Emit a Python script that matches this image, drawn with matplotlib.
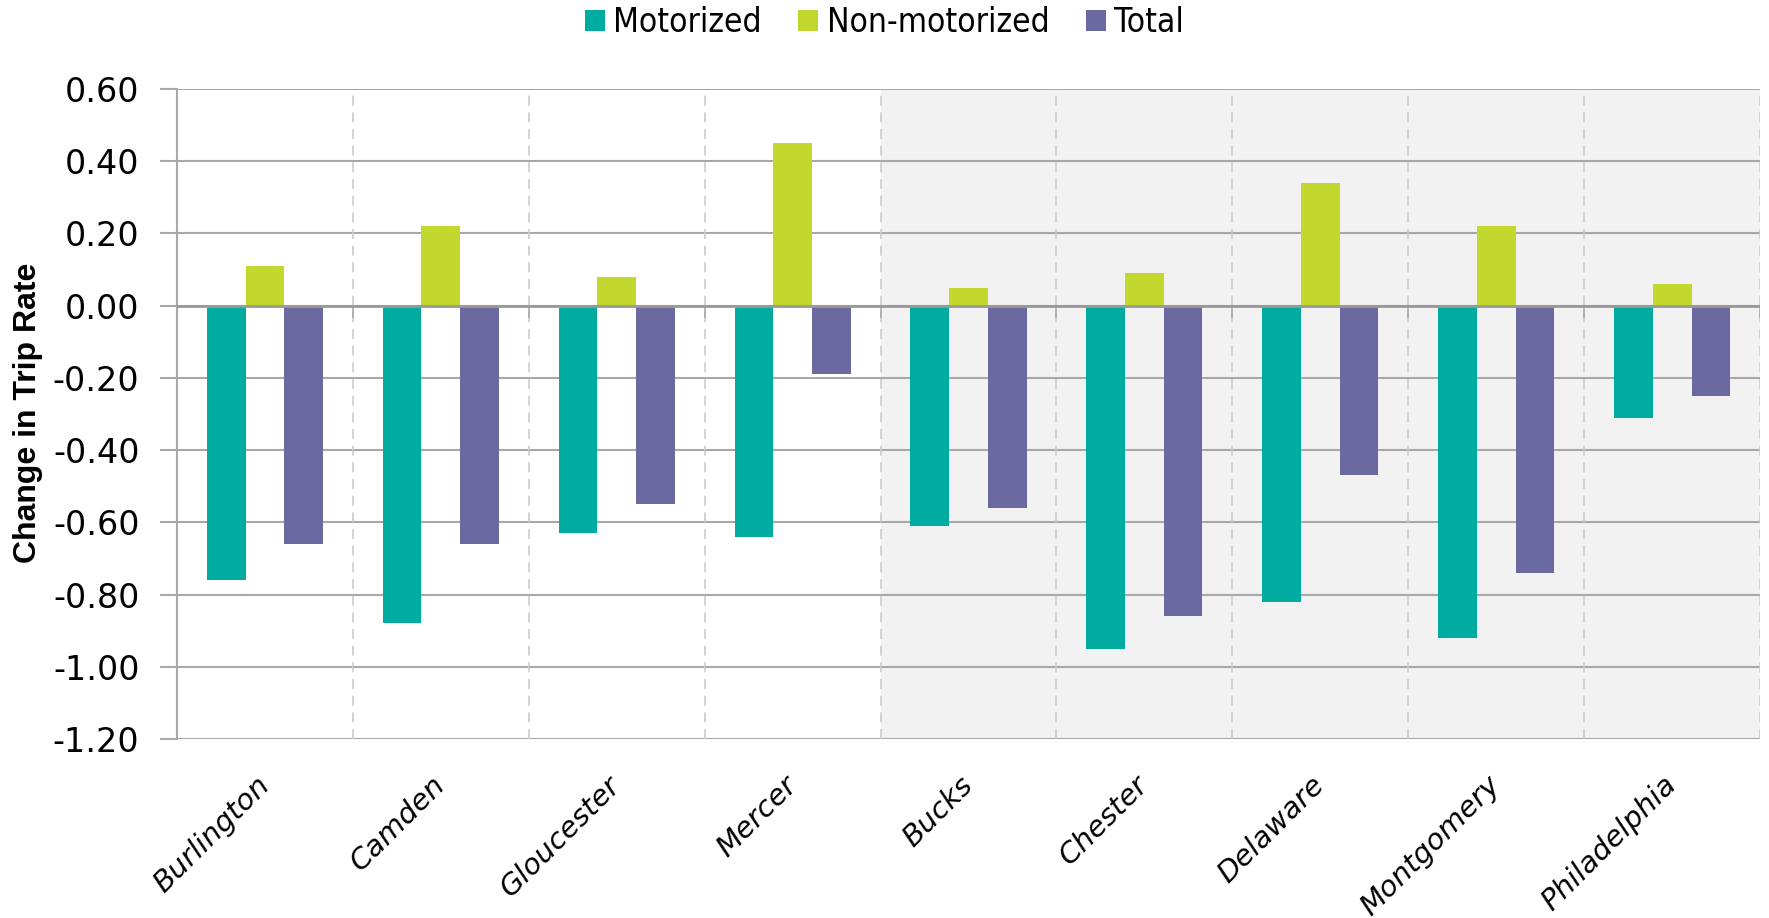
import numpy as np
import matplotlib.pyplot as plt
import matplotlib.transforms as mtransforms

counties = ['Burlington', 'Camden', 'Gloucester', 'Mercer', 'Bucks',
            'Chester', 'Delaware', 'Montgomery', 'Philadelphia']
motorized = [-0.76, -0.88, -0.63, -0.64, -0.61, -0.95, -0.82, -0.92, -0.31]
non_motorized = [0.11, 0.22, 0.08, 0.45, 0.05, 0.09, 0.34, 0.22, 0.06]
total = [-0.66, -0.66, -0.55, -0.19, -0.56, -0.86, -0.47, -0.74, -0.25]
yticks = [0.60, 0.40, 0.20, 0.00, -0.20, -0.40, -0.60, -0.80, -1.00, -1.20]

teal = '#00aba1'
lime = '#c2d82e'
purple = '#6a6aa0'
grid_gray = '#a8a8a8'

fig = plt.figure(figsize=(17.69, 9.18), dpi=100)
ax = fig.add_axes([0.1, 0.195, 0.895, 0.708])

x = np.arange(len(counties))
w = 0.22
ax.bar(x - w, motorized, w, color=teal, label='Motorized', zorder=3)
ax.bar(x, non_motorized, w, color=lime, label='Non-motorized', zorder=3)
ax.bar(x + w, total, w, color=purple, label='Total', zorder=3)

# shaded PA counties
ax.axvspan(3.5, len(counties) - 0.5, color='#f2f2f2', zorder=0, lw=0)

# dashed separators between counties
bounds = np.arange(len(counties)) + 0.5
for b in bounds:
    ax.axvline(b, color='#cccccc', ls=(0, (6, 4)), lw=1.2, zorder=1)
    ax.plot([b, b], [0, -0.03], color=grid_gray, lw=1.2, zorder=2)

ax.set_xlim(-0.5, len(counties) - 0.5)
ax.set_ylim(-1.2, 0.6)
ax.set_yticks(yticks)
ax.set_yticklabels([f'{v:.2f}' for v in yticks], fontsize=24)
ax.yaxis.grid(True, color=grid_gray, lw=1.5, zorder=1)
ax.axhline(0, color='#999999', lw=2, zorder=4)
ax.tick_params(axis='y', length=12, width=1.5, color=grid_gray, pad=15)

ax.set_xticks(x)
ax.set_xticklabels(counties, rotation=45, ha='right', va='top',
                   fontsize=21, style='oblique')
ax.tick_params(axis='x', length=0, pad=23)
shift = mtransforms.ScaledTranslation(10 / 100, 0, fig.dpi_scale_trans)
for lbl in ax.get_xticklabels():
    lbl.set_transform(lbl.get_transform() + shift)

for s in ['top', 'right', 'bottom']:
    ax.spines[s].set_visible(False)
ax.spines['left'].set_color(grid_gray)
ax.spines['left'].set_linewidth(1.5)
ax.set_axisbelow(True)

fig.text(0.016, 0.55, 'Change in Trip Rate', rotation=90, ha='center',
         va='center', fontsize=23, fontweight='heavy',
         family=['Liberation Sans', 'DejaVu Sans'])

fig.legend(loc='center', bbox_to_anchor=(0.5, 0.975), ncol=3,
           frameon=False, handlelength=0.6, handleheight=0.6,
           handletextpad=0.25, columnspacing=1.1, borderpad=0,
           prop={'family': ['DejaVu Sans'], 'stretch': 'condensed', 'size': 24})

fig.savefig('out.png', dpi=100)
